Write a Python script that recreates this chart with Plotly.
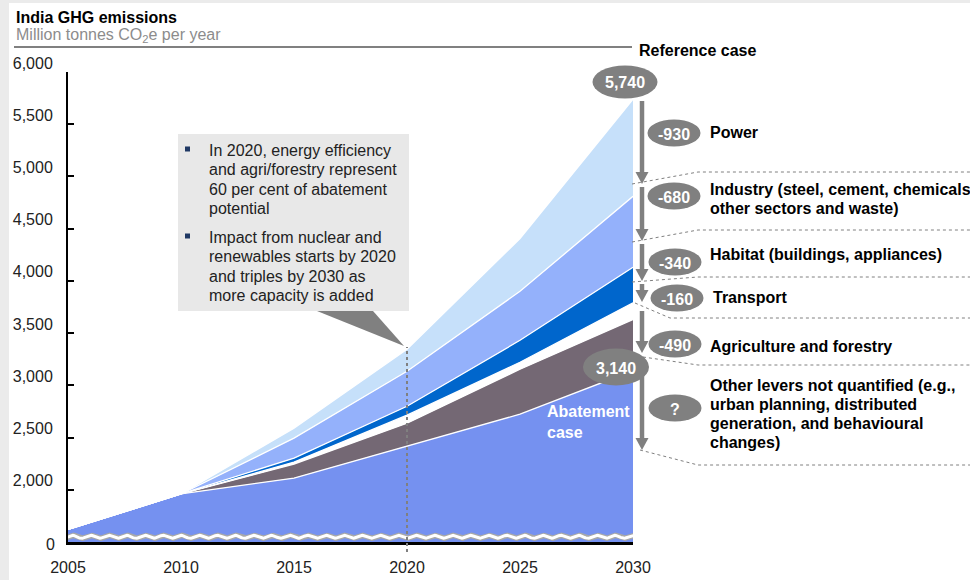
import numpy as np
import plotly.graph_objects as go

# ---------------- data ----------------
years = [2005, 2010, 2015, 2020, 2025, 2030]
reference_case = [1620, 1960, 2590, 3345, 4406, 5740]
after_power = [1620, 1960, 2494, 3135, 3900, 4810]
after_industry = [1620, 1960, 2303, 2800, 3431, 4130]
after_habitat = [1620, 1960, 2265, 2714, 3221, 3790]
after_transport = [1620, 1960, 2246, 2638, 3154, 3630]
abatement_case = [1620, 1960, 2112, 2418, 2724, 3140]

y_tick_vals = [2000, 2500, 3000, 3500, 4000, 4500, 5000, 5500, 6000]
y_tick_text = ["2,000", "2,500", "3,000", "3,500", "4,000", "4,500", "5,000", "5,500", "6,000"]
x_tick_vals = years
x_tick_text = ["2005", "2010", "2015", "2020", "2025", "2030"]

reference_label = "5,740"
abatement_label = "3,140"
lever_values = ["-930", "-680", "-340", "-160", "-490", "?"]
lever_names = [
    ["Power"],
    ["Industry (steel, cement, chemicals", "other sectors and waste)"],
    ["Habitat (buildings, appliances)"],
    ["Transport"],
    ["Agriculture and forestry"],
    ["Other levers not quantified (e.g.,", "urban planning, distributed",
     "generation, and behavioural", "changes)"],
]
callout_lines = [
    ["In 2020, energy efficiency", "and agri/forestry represent",
     "60 per cent of abatement", "potential"],
    ["Impact from nuclear and", "renewables starts by 2020",
     "and triples by 2030 as", "more capacity is added"],
]

# ---------------- layout helpers ----------------
W, H = 970, 580
PL, PR, PT, PB = 68, 633, 72, 542
FONT = "Liberation Sans, Arial, sans-serif"
GREY = "#808080"
FS = 16


def px(x):
    return (x - PL) / (PR - PL)


def py(y):
    return (PB - y) / (PB - PT)


fig = go.Figure()

bands = [
    (abatement_case, "#7591F0", "tozeroy"),
    (after_transport, "#746874", "tonexty"),
    (after_habitat, "#FFFFFF", "tonexty"),
    (after_industry, "#0066CC", "tonexty"),
    (after_power, "#94B1FB", "tonexty"),
    (reference_case, "#C6E0FA", "tonexty"),
]
for vals, col, fill in bands:
    fig.add_trace(go.Scatter(
        x=years, y=vals, mode="lines", fill=fill, fillcolor=col,
        line=dict(color="white", width=1.3), hoverinfo="skip", showlegend=False))

# axis break wave
wx = np.linspace(2004.7, 2030.35, 600)
wy = 1550 + 14 * np.sin((wx - 2005) / 0.8 * 2 * np.pi)
fig.add_trace(go.Scatter(x=wx, y=wy, mode="lines", line=dict(color="#A8A8A8", width=5.5),
                         hoverinfo="skip", showlegend=False, cliponaxis=False))
fig.add_trace(go.Scatter(x=wx, y=wy, mode="lines", line=dict(color="white", width=3),
                         hoverinfo="skip", showlegend=False, cliponaxis=False))

shapes = []
annotations = []

# background strips
shapes.append(dict(type="rect", xref="paper", yref="paper", x0=px(0), x1=px(9), y0=py(0), y1=py(H),
                   fillcolor="#EBEBEB", line=dict(width=0), layer="below"))
shapes.append(dict(type="rect", xref="paper", yref="paper", x0=px(0), x1=px(W), y0=py(0), y1=py(3),
                   fillcolor="#EBEBEB", line=dict(width=0), layer="below"))

# title rule
shapes.append(dict(type="line", xref="paper", yref="paper", x0=px(14), x1=px(632), y0=py(47), y1=py(47),
                   line=dict(color=GREY, width=2)))


def text(x, y, s, size=FS, color="#000000", bold=False, anchor="left"):
    if bold:
        s = "<b>" + s + "</b>"
    annotations.append(dict(xref="paper", yref="paper", x=px(x), y=py(y), text=s, showarrow=False,
                            xanchor=anchor, yanchor="middle",
                            font=dict(family=FONT, size=size, color=color)))


def ellipse(cx, cy, w, h, label):
    shapes.append(dict(type="circle", xref="paper", yref="paper", x0=px(cx - w / 2), x1=px(cx + w / 2),
                       y0=py(cy + h / 2), y1=py(cy - h / 2), fillcolor=GREY, line=dict(width=0)))
    text(cx, cy + 1, label, size=FS, color="white", bold=True, anchor="center")


def arrow(x, y0, y1):
    hh, hw = 12, 6.5
    shapes.append(dict(type="line", xref="paper", yref="paper", x0=px(x), x1=px(x), y0=py(y0), y1=py(y1 - hh + 1),
                       line=dict(color=GREY, width=4.5)))
    path = "M {},{} L {},{} L {},{} Z".format(px(x - hw), py(y1 - hh), px(x + hw), py(y1 - hh), px(x), py(y1))
    shapes.append(dict(type="path", xref="paper", yref="paper", path=path, fillcolor=GREY, line=dict(width=0)))


def leader(x0, y0, x1, y1):
    path = "M {},{} L {},{} L {},{}".format(px(x0), py(y0), px(x1), py(y1), px(W), py(y1))
    shapes.append(dict(type="path", xref="paper", yref="paper", path=path,
                       line=dict(color=GREY, width=1, dash="dot")))


# title
text(14, 18, "India GHG emissions", bold=True)
text(14, 35, "Million tonnes CO<sub>2</sub>e per year", color="#8C8C8C")
text(637, 50, "Reference case", bold=True)

# callout box
shapes.append(dict(type="rect", xref="paper", yref="paper", x0=px(178), x1=px(409), y0=py(311), y1=py(134),
                   fillcolor="#E8E8E8", line=dict(width=0)))
shapes.append(dict(type="path", xref="paper", yref="paper",
                   path="M {},{} L {},{} L {},{} Z".format(px(317), py(311), px(373), py(311), px(404), py(346)),
                   fillcolor=GREY, line=dict(width=0)))
line_y = [[150, 169, 189, 208], [237, 256, 276, 295]]
for blk, ys in zip(callout_lines, line_y):
    by = ys[0] - 1
    shapes.append(dict(type="rect", xref="paper", yref="paper", x0=px(185), x1=px(190), y0=py(by + 2.5),
                       y1=py(by - 2.5), fillcolor="#1F3864", line=dict(width=0)))
    for s, y in zip(blk, ys):
        text(207, y, s, color="#222222")

# dotted 2020 line
shapes.append(dict(type="line", xref="x", yref="paper", x0=2020, x1=2020, y0=py(552), y1=py(347),
                   line=dict(color=GREY, width=2, dash="dot"), layer="above"))

# arrows
AX = 642
for y0, y1 in [(101, 184), (187, 241), (244, 281), (284, 302), (311, 353), (357, 450)]:
    arrow(AX, y0, y1)

# leaders
for pts in [(632, 184, 698, 172), (632, 242, 698, 230), (632, 282, 698, 277),
            (635, 303, 670, 318), (643, 357, 698, 365), (640, 450, 698, 465)]:
    leader(*pts)

# bubbles
ellipse(625, 82, 65, 33, reference_label)
ellipse(616, 367, 66, 37, abatement_label)
bubble_pos = [(674, 133), (674, 196), (675, 262), (677, 298), (675, 344), (675, 408)]
name_y = [[132], [189, 208], [255], [297], [346], [385, 404, 423, 442]]
for (cx, cy), v, names, ys in zip(bubble_pos, lever_values, lever_names, name_y):
    ellipse(cx, cy, 53, 27, v)
    nx = 711 if v == "-160" else 708
    for s, y in zip(names, ys):
        text(nx, y, s, bold=True)

# abatement case label
text(545, 412, "Abatement", color="white", bold=True)
text(545, 432, "case", color="white", bold=True)

# zero label (axis break)
text(57, 544, "0", color="#222222", anchor="right")

fig.update_layout(
    width=W, height=H,
    margin=dict(l=PL, r=W - PR, t=PT, b=H - PB, pad=0, autoexpand=False),
    paper_bgcolor="white", plot_bgcolor="white",
    showlegend=False,
    shapes=shapes, annotations=annotations,
    font=dict(family=FONT, size=FS, color="#222222"),
)
fig.update_xaxes(range=[2005, 2030], tickvals=x_tick_vals, ticktext=x_tick_text, showgrid=False,
                 zeroline=False, showline=True, linecolor="black", linewidth=2.5, ticks="",
                 ticklabelstandoff=9, automargin=False, tickfont=dict(size=FS, color="#222222"))
fig.update_yaxes(range=[1500, 6000], tickvals=y_tick_vals, ticktext=y_tick_text, showgrid=False,
                 zeroline=False, showline=True, linecolor="black", linewidth=2, ticks="inside",
                 ticklen=6, tickwidth=2, tickcolor="black", ticklabelstandoff=10, ticklabelshift=-9,
                 automargin=False, tickfont=dict(size=FS, color="#222222"))

fig.write_html("out.html", config={"displayModeBar": False},
               post_script="document.body.style.margin='0';document.body.style.overflow='hidden';")
